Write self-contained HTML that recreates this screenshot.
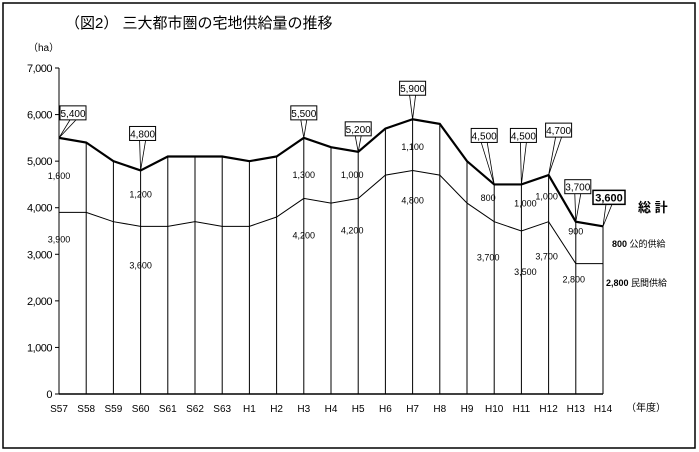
<!DOCTYPE html>
<html><head><meta charset="utf-8"><style>
body{margin:0;background:#fff}
svg{display:block;font-family:"Liberation Sans","Noto Sans CJK JP",sans-serif}
</style></head><body>
<svg id="c" width="699" height="452">
<rect x="3" y="3" width="692" height="445" fill="#fff" stroke="#000" stroke-width="1.5"/>
<text x="65" y="28" font-size="15">（図2） 三大都市圏の宅地供給量の推移</text>
<text x="28" y="51" font-size="10">（ha）</text>
<text x="626" y="411" font-size="10">（年度）</text>
<text x="638" y="212" font-size="13" font-weight="bold">総 計</text>
<text x="612" y="247" font-size="9"><tspan font-weight="bold">800</tspan> 公的供給</text>
<text x="606" y="286" font-size="9"><tspan font-weight="bold">2,800</tspan> 民間供給</text>
<g id="g"></g>
</svg>
<script>
const categories=["S57","S58","S59","S60","S61","S62","S63","H1","H2","H3","H4","H5","H6","H7","H8","H9","H10","H11","H12","H13","H14"];
const totalValues=[5500,5400,5000,4800,5100,5100,5100,5000,5100,5500,5300,5200,5700,5900,5800,5000,4500,4500,4700,3700,3600];
const privateValues=[3900,3900,3700,3600,3600,3700,3600,3600,3800,4200,4100,4200,4700,4800,4700,4100,3700,3500,3700,2800,2800];
const yTicks=[0,1000,2000,3000,4000,5000,6000,7000];
const yTickLabels=["0","1,000","2,000","3,000","4,000","5,000","6,000","7,000"];
const calloutIdx=[0,3,9,11,13,16,17,18,19,20];
const calloutText=["5,400","4,800","5,500","5,200","5,900","4,500","4,500","4,700","3,700","3,600"];
const publicIdx=[0,3,9,11,13,16,17,18,19];
const publicText=["1,600","1,200","1,300","1,000","1,100","800","1,000","1,000","900"];
const privateText=["3,900","3,600","4,200","4,200","4,800","3,700","3,500","3,700","2,800"];

const X=i=>59+i*27.2, Y=v=>394-v*0.04657;
const g=document.getElementById('g'), NS="http://www.w3.org/2000/svg";
function mk(t,a,txt){const e=document.createElementNS(NS,t);for(const k in a)e.setAttribute(k,a[k]);if(txt!==undefined)e.textContent=txt;g.appendChild(e);return e;}
let e=mk('line',{x1:59,y1:Y(7000),x2:59,y2:394,stroke:'#000'});


e=mk('line',{x1:59,y1:394,x2:X(20),y2:394,stroke:'#000','stroke-width':1.5});


yTicks.forEach((v,i)=>{
 e=mk('line',{x1:55,y1:Y(v),x2:59,y2:Y(v),stroke:'#000'});
 
 
 e=mk('text',{x:52,y:Y(v)+4,'font-size':11,'text-anchor':'end','letter-spacing':'-0.5'},yTickLabels[i]);
 
 
});
categories.forEach((c,i)=>{
 e=mk('line',{x1:X(i),y1:Y(totalValues[i]),x2:X(i),y2:394,stroke:'#000','stroke-width':1});
 
 
 e=mk('text',{x:X(i),y:412,'font-size':10,'text-anchor':'middle'},c);
 
 
});
e=mk('polyline',{points:privateValues.map((v,i)=>X(i)+','+Y(v)).join(' '),fill:'none',stroke:'#000','stroke-width':1});


e=mk('polyline',{points:totalValues.map((v,i)=>X(i)+','+Y(v)).join(' '),fill:'none',stroke:'#000','stroke-width':2.2});


const pubOff=[[0,-10],[0,-15],[0,-4],[-6,-11],[0,-9],[-6,-16],[4,-15],[-2,-13],[0,-22]];
const privOff=[[0,30],[0,42],[0,40],[-6,35],[0,33],[-6,39],[4,44],[-2,38],[-2,19]];
publicIdx.forEach((i,k)=>{
 const tY=(Y(totalValues[i])+Y(privateValues[i]))/2;
 e=mk('text',{x:X(i)+pubOff[k][0],y:tY+pubOff[k][1]+14,'font-size':9,'text-anchor':'middle',fill:'#000'},publicText[k]);
 
 
 e=mk('text',{x:X(i)+privOff[k][0],y:Y(privateValues[i])+privOff[k][1],'font-size':9,'text-anchor':'middle'},privateText[k]);
 
 
});
const boxOff=[[14,-18],[2,-30],[0,-18],[0,-16],[0,-24],[-10,-42],[2,-42],[10,-38],[2,-28],[6,-22]];
calloutIdx.forEach((i,k)=>{
 const px=X(i),py=Y(totalValues[i]);
 const bx=px+boxOff[k][0],by=py+boxOff[k][1];
 const last=k===calloutIdx.length-1, w=last?32:26;
 e=mk('polyline',{points:(bx-3)+','+(by)+' '+px+','+py+' '+(bx+3)+','+(by),fill:'none',stroke:'#000','stroke-width':0.8});
 
 
 e=mk('rect',{x:bx-w/2,y:by-14,width:w,height:14,fill:'#fff',stroke:'#000','stroke-width':last?1.5:1});
 
 
 e=mk('text',{x:bx,y:by-3,'font-size':last?11:10,'font-weight':last?'bold':'normal','text-anchor':'middle'},calloutText[k]);
 
 
});
</script>
</body></html>
